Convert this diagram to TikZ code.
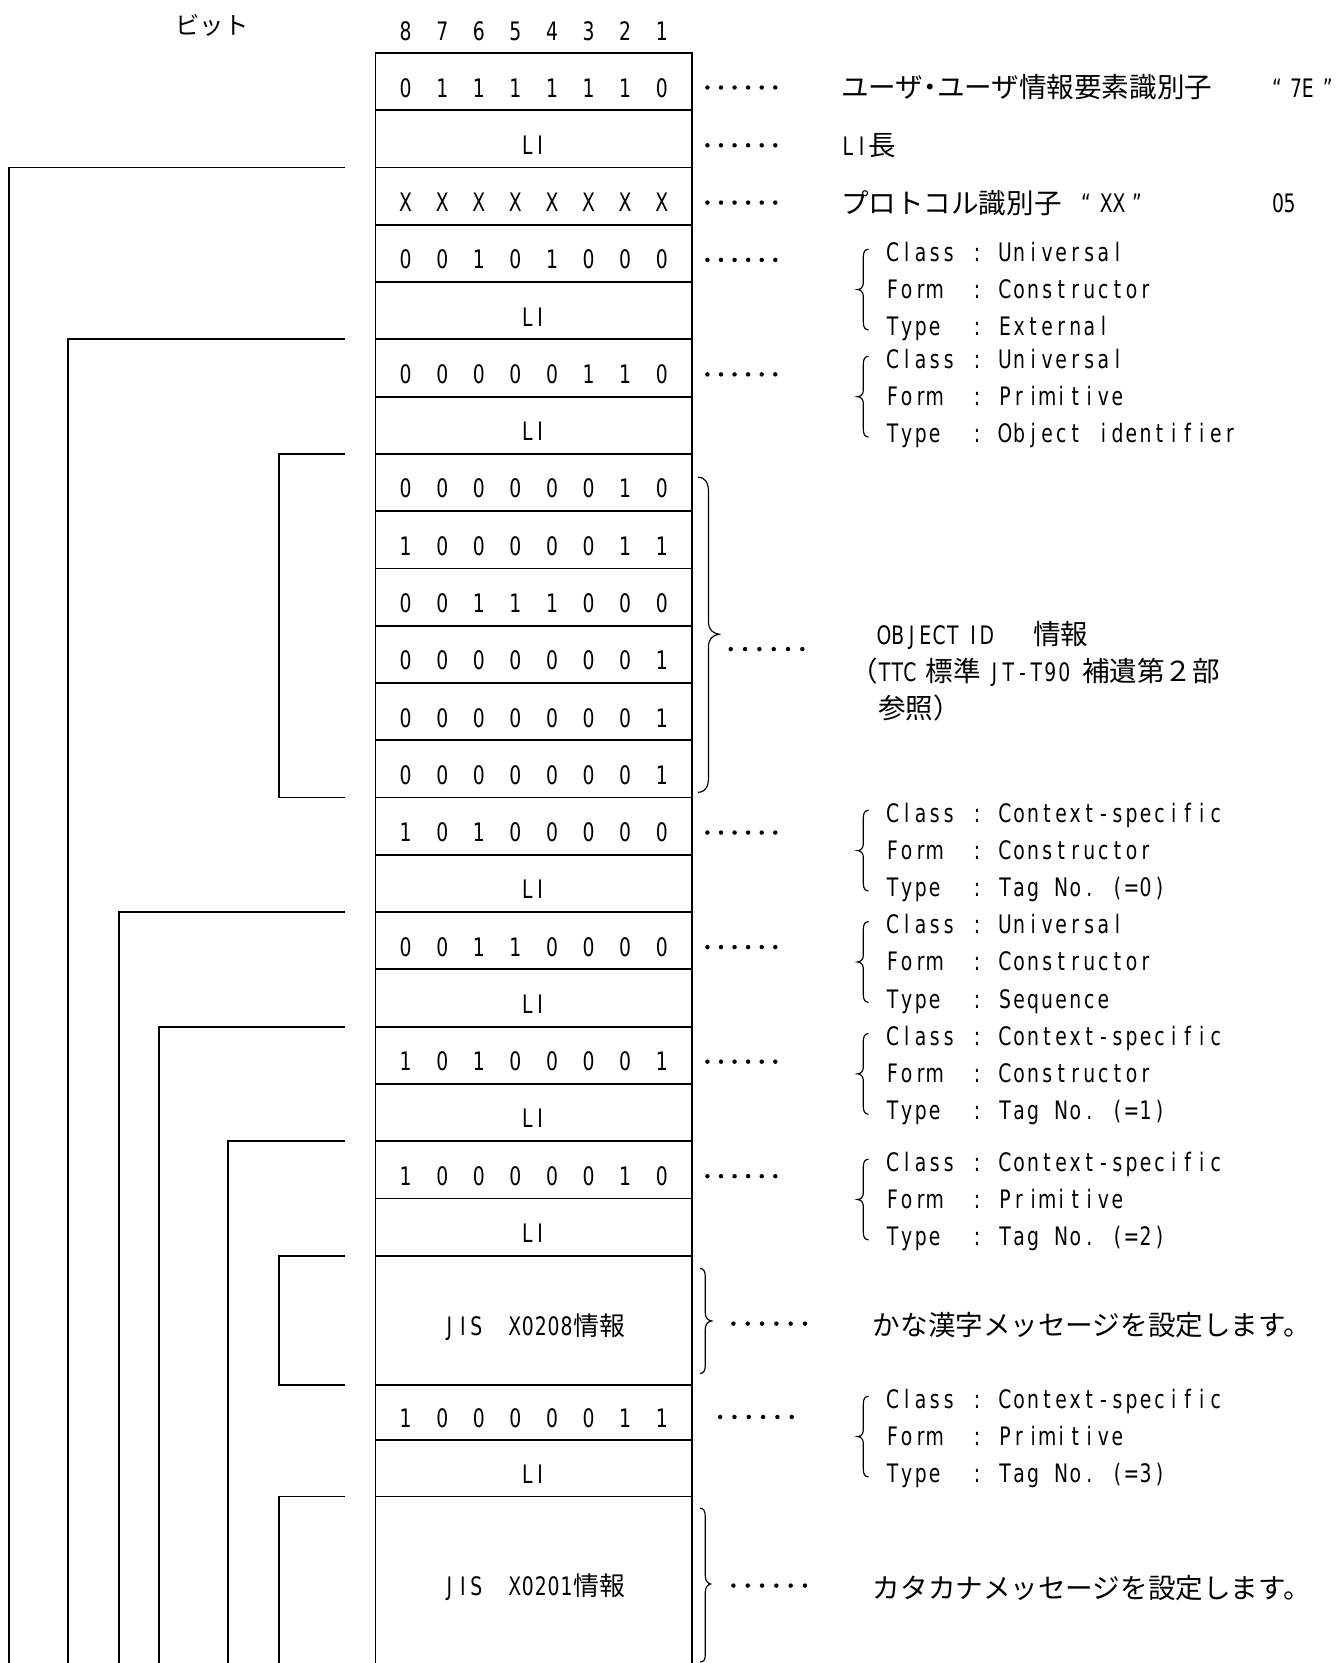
\documentclass[tikz,border=0pt]{standalone}
\usepackage{fontspec}
\setmainfont{DejaVu Sans}
\newfontfamily\jpfont{Noto Sans CJK JP}
\newfontfamily\lsfont[FakeStretch=0.82]{DejaVu Sans Condensed}
\def\cellsloop#1{\ifx#1\relax\else\makebox[\cellw][c]{#1}\expandafter\cellsloop\fi}
\newcommand\cells[2]{\def\cellw{#1}\cellsloop#2\relax}
\newcommand\txl[1]{{\lsfont\fontsize{24pt}{28pt}\selectfont #1}}
\newcommand\txc[1]{{\lsfont\fontsize{24pt}{28pt}\selectfont\cells{13.25pt}{#1}}}
\newcommand\txj[1]{{\jpfont\fontsize{26pt}{30pt}\selectfont #1}}
\newcommand\tbj[1]{{\jpfont\fontsize{24.4pt}{28pt}\selectfont #1}}
\newcommand\bitrow[8]{\makebox[34.5pt]{#1}\makebox[34.5pt]{#2}\makebox[34.5pt]{#3}\makebox[34.5pt]{#4}\makebox[34.5pt]{#5}\makebox[34.5pt]{#6}\makebox[34.5pt]{#7}\makebox[34.5pt]{#8}}
\newcommand\tbli{\txl{\cells{12pt}{LI}}}
\newcommand\dotlead[3]{\foreach \dotk in {0,...,5}{\fill (#1+\dotk*#3,#2) circle[radius=2.1pt];}}
\newcommand\tagblock[5]{%
  \draw[brc] (819,#2-3) .. controls (816,#2-3) and (814,#2-1) .. (814,#2+4) -- (814,#2+29)
    .. controls (814,#2+33) and (811,#2+35) .. (808.5,#2+35)
    .. controls (811,#2+35) and (814,#2+37) .. (814,#2+41) -- (814,#2+66)
    .. controls (814,#2+71) and (816,#2+73) .. (819,#2+73);
  \node[lbl] (#1-cls) at (835,#2+8.5) {\txc{Class~:~#3}};
  \node[lbl] (#1-frm) at (835,#2+43.5) {\txc{Form~~:~#4}};
  \node[lbl] (#1-typ) at (835,#2+78.5) {\txc{Type~~:~#5}};
}
\begin{document}
\begin{tikzpicture}[x=1pt,y=-1pt,
  rowbox/.style={draw, line width=1.7pt, minimum width=298.5pt, inner sep=0pt, outer sep=0pt, text height=29pt, text depth=0pt, anchor=north},
  brk/.style={line width=1.7pt},
  brc/.style={line width=1.1pt},
  lbl/.style={inner sep=0pt, outer sep=0pt, anchor=base west}]
\useasboundingbox (0,0) rectangle (1259,1568);
\clip (0,0) rectangle (1259,1568);
\fill[white] (0,0) rectangle (1259,1568);

% header
\node[inner sep=0pt, anchor=base] (hbit) at (200,33) {{\jpfont\fontsize{23pt}{27pt}\selectfont ビット}};
\node[inner sep=0pt, anchor=base] (hnum) at (503.25,38.5) {\txl{\bitrow87654321}};

% table rows
\node[rowbox, minimum height=54pt] (r1) at (503.25,50) {\txl{\bitrow01111110}};
\node[rowbox, minimum height=54pt] (r2) at (503.25,104) {\tbli};
\node[rowbox, minimum height=54pt] (r3) at (503.25,158) {\txl{\bitrow XXXXXXXX}};
\node[rowbox, minimum height=54pt] (r4) at (503.25,212) {\txl{\bitrow00101000}};
\node[rowbox, minimum height=54pt] (r5) at (503.25,266) {\tbli};
\node[rowbox, minimum height=54pt] (r6) at (503.25,320) {\txl{\bitrow00000110}};
\node[rowbox, minimum height=54pt] (r7) at (503.25,374) {\tbli};
\node[rowbox, minimum height=54pt] (r8) at (503.25,428) {\txl{\bitrow00000010}};
\node[rowbox, minimum height=54pt] (r9) at (503.25,482) {\txl{\bitrow10000011}};
\node[rowbox, minimum height=54pt] (r10) at (503.25,536) {\txl{\bitrow00111000}};
\node[rowbox, minimum height=54pt] (r11) at (503.25,590) {\txl{\bitrow00000001}};
\node[rowbox, minimum height=54pt] (r12) at (503.25,644) {\txl{\bitrow00000001}};
\node[rowbox, minimum height=54pt] (r13) at (503.25,698) {\txl{\bitrow00000001}};
\node[rowbox, minimum height=54pt] (r14) at (503.25,752) {\txl{\bitrow10100000}};
\node[rowbox, minimum height=54pt] (r15) at (503.25,806) {\tbli};
\node[rowbox, minimum height=54pt] (r16) at (503.25,860) {\txl{\bitrow00110000}};
\node[rowbox, minimum height=54pt] (r17) at (503.25,914) {\tbli};
\node[rowbox, minimum height=54pt] (r18) at (503.25,968) {\txl{\bitrow10100001}};
\node[rowbox, minimum height=54pt] (r19) at (503.25,1022) {\tbli};
\node[rowbox, minimum height=54pt] (r20) at (503.25,1076) {\txl{\bitrow10000010}};
\node[rowbox, minimum height=54pt] (r21) at (503.25,1130) {\tbli};
\node[rowbox, minimum height=122pt] (r22) at (503.25,1184) {\txl{\cells{12.7pt}{JIS}\hspace{24pt}\cells{12.2pt}{X0208}}\tbj{情報}};
\node[rowbox, minimum height=51.5pt] (r23) at (503.25,1306) {\txl{\bitrow10000011}};
\node[rowbox, minimum height=53.5pt] (r24) at (503.25,1357.5) {\tbli};
\node[rowbox, minimum height=200pt, text height=16pt, text depth=29.4pt] (r25) at (503.25,1411) {\txl{\cells{12.7pt}{JIS}\hspace{24pt}\cells{12.2pt}{X0201}}\tbj{情報}};

% left brackets
\draw[brk] ([xshift=-28.5pt]r3.north west) -| (8.5,1600);
\draw[brk] ([xshift=-28.5pt]r6.north west) -| (64,1600);
\draw[brk] ([xshift=-28.5pt]r8.north west) -- ++(-62.5,0) |- ([xshift=-28.5pt]r13.south west);
\draw[brk] ([xshift=-28.5pt]r16.north west) -| (112,1600);
\draw[brk] ([xshift=-28.5pt]r18.north west) -| (150,1600);
\draw[brk] ([xshift=-28.5pt]r20.north west) -| (215,1600);
\draw[brk] ([xshift=-28.5pt]r22.north west) -- ++(-62.5,0) |- ([xshift=-28.5pt]r22.south west);
\draw[brk] ([xshift=-28.5pt]r25.north west) -| (263,1600);

% dot leaders
\dotlead{667}{82.5}{12.8}
\dotlead{667}{137}{12.8}
\dotlead{667}{191}{12.8}
\dotlead{667}{245}{12.8}
\dotlead{667}{353}{12.8}
\dotlead{689}{612}{13.5}
\dotlead{667}{785}{12.8}
\dotlead{667}{893}{12.8}
\dotlead{667}{1001}{12.8}
\dotlead{667}{1109}{12.8}
\dotlead{691.5}{1248}{13.5}
\dotlead{679}{1336}{13.5}
\dotlead{691.5}{1495}{13.5}

% right braces
\draw[brc] (658,450) .. controls (665,450) and (668,455) .. (668,464) -- (668,586)
  .. controls (668,594) and (672,597) .. (678,598)
  .. controls (672,599) and (668,602) .. (668,610) -- (668,733)
  .. controls (668,742) and (665,747) .. (658,747);
\draw[brc] (660,1196) .. controls (663.5,1196) and (665,1199) .. (665,1204) -- (665,1238)
  .. controls (665,1243) and (668,1245) .. (671,1245.5)
  .. controls (668,1246) and (665,1248) .. (665,1253) -- (665,1287)
  .. controls (665,1292) and (663.5,1295) .. (660,1295);
\draw[brc] (660,1422) .. controls (663.5,1422) and (665,1425) .. (665,1430) -- (665,1486)
  .. controls (665,1491) and (668,1493) .. (670,1493.5)
  .. controls (668,1494) and (665,1496) .. (665,1501) -- (665,1560)
  .. controls (665,1565) and (663.5,1567) .. (660,1567);

% right labels
\node[lbl] (t1) at (793,92) {\txj{ユーザ\makebox[13pt]{・}ユーザ情報要素識別子}};
\node[lbl] (t1b) at (1198.5,92) {\txl{\makebox[11pt]{“}\hspace{7pt}\cells{11pt}{7E}\hspace{8pt}\makebox[11pt]{”}}};
\node[lbl] (t2) at (793,147) {\txl{\cells{13pt}{LI}}\txj{長}};
\node[lbl] (t3) at (793,201) {\txj{プロトコル識別子}};
\node[lbl] (t3b) at (1018.5,200.5) {\txl{\makebox[11pt]{“}\hspace{7.5pt}\cells{12pt}{XX}\hspace{5.5pt}\makebox[11pt]{”}}};
\node[lbl] (t3c) at (1199.5,200.5) {\txl{\cells{11pt}{05}}};

\tagblock{A}{238}{Universal}{Constructor}{External}
\tagblock{B}{339}{Universal}{Primitive}{Object~identifier}

\node[lbl] (oid1) at (827,607.5) {\txl{\cells{13pt}{OBJECT}\hspace{6pt}\cells{13pt}{ID}}\hspace{37pt}\txj{情報}};
\node[lbl] (oid2) at (802,643) {\txj{（}\txl{\cells{12pt}{TTC}}\hspace{9pt}\txj{標準}\hspace{6pt}\txl{\cells{13.2pt}{JT-T90}}\hspace{10pt}\txj{補遺第２部}};
\node[lbl] (oid3) at (828,677) {\txj{参照）}};

\tagblock{C}{767}{Context-specific}{Constructor}{Tag~No.~(=0)}
\tagblock{D}{872}{Universal}{Constructor}{Sequence}
\tagblock{E}{977.5}{Context-specific}{Constructor}{Tag~No.~(=1)}
\tagblock{F}{1096}{Context-specific}{Primitive}{Tag~No.~(=2)}

\node[lbl] (kanji) at (823,1259.5) {\txj{かな漢字メッセージを設定します。}};
\tagblock{G}{1319.5}{Context-specific}{Primitive}{Tag~No.~(=3)}
\node[lbl] (kana) at (823,1507) {\txj{カタカナメッセージを設定します。}};
\end{tikzpicture}
\end{document}
